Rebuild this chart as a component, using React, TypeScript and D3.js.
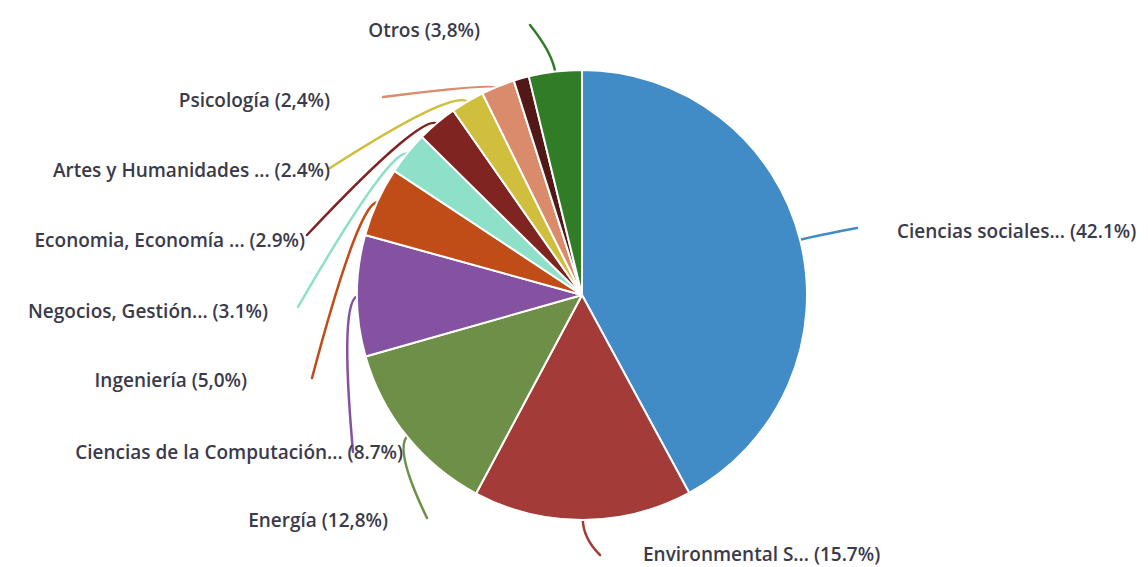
import React from 'react';
import * as d3 from 'd3';

// ---- data ----
const categories = [
  'Ciencias sociales...',
  'Environmental S...',
  'Energía',
  'Ciencias de la Computación...',
  'Ingeniería',
  'Negocios, Gestión...',
  'Economia, Economía ...',
  'Artes y Humanidades ...',
  'Psicología',
  '',
  'Otros',
];
const values = [42.1, 15.7, 12.8, 8.7, 5.0, 3.1, 2.9, 2.4, 2.4, 1.1, 3.8];
const valueTexts = ['42.1%', '15.7%', '12,8%', '8.7%', '5,0%', '3.1%', '2.9%', '2.4%', '2,4%', '', '3,8%'];
const colors = [
  '#418cc6', '#a33b39', '#6e8f48', '#8452a1', '#c04d18', '#8ee0c9',
  '#7f2421', '#cfbf3d', '#da8b6b', '#521818', '#317d27',
];

// ---- layout (label placement) ----
const labelX = [897, 643, 388, 403, 247, 268, 305, 330, 330, 0, 480];
const labelY = [231, 554, 520, 452, 380, 311, 240, 170, 100, 0, 30];
const labelAnchor = ['start', 'start', 'end', 'end', 'end', 'end', 'end', 'end', 'end', 'end', 'end'];
const lineEndX = [857, 600, 427, 353, 312, 298, 307, 330, 383, 0, 530];
const lineEndY = [228, 555, 518, 452, 378, 307, 235, 168, 97, 0, 25];
const bendMax = [20, 20, 20, 20, 20, 20, 20, 20, 6, 0, 20];

const W = 1148;
const H = 567;
const CX = 582;
const CY = 295;
const R = 225;

export default function App() {
  const pie = d3.pie<number>().sort(null).value((d) => d).startAngle(0).endAngle(2 * Math.PI);
  const arcs = pie(values);
  const arc = d3.arc<d3.PieArcDatum<number>>().innerRadius(0).outerRadius(R);

  const leaders = arcs.map((a, i) => {
    if (!categories[i]) return null;
    const mid = (a.startAngle + a.endAngle) / 2;
    const ux = Math.sin(mid);
    const uy = -Math.cos(mid);
    const sx = ux * (R - 2);
    const sy = uy * (R - 2);
    const ex = lineEndX[i] - CX;
    const ey = lineEndY[i] - CY;
    const dist = Math.hypot(ex - sx, ey - sy);
    const k = Math.min(dist * 0.5, bendMax[i]);
    const p = d3.path();
    p.moveTo(sx, sy);
    p.quadraticCurveTo(sx + ux * k, sy + uy * k, ex, ey);
    return { d: p.toString(), color: colors[i] };
  });

  return (
    <svg
      width={W}
      height={H}
      style={{ position: 'absolute', left: 0, top: 0, background: '#fff' }}
    >
      <g transform={`translate(${CX},${CY})`}>
        {leaders.map((l, i) =>
          l ? (
            <path key={'l' + i} d={l.d} fill="none" stroke={l.color} strokeWidth={2.5} strokeLinecap="round" />
          ) : null
        )}
        {arcs.map((a, i) => (
          <path key={'s' + i} d={arc(a) || ''} fill={colors[i]} stroke="#fff" strokeWidth={2} strokeLinejoin="round" />
        ))}
      </g>
      {categories.map((c, i) =>
        c ? (
          <text
            key={'t' + i}
            x={labelX[i]}
            y={labelY[i]}
            dy="0.35em"
            textAnchor={labelAnchor[i]}
            fontFamily="'Open Sans', sans-serif"
            fontSize={19}
            fontWeight={600}
            fill="#3a3a4a"
          >
            {`${c} (${valueTexts[i]})`}
          </text>
        ) : null
      )}
    </svg>
  );
}
